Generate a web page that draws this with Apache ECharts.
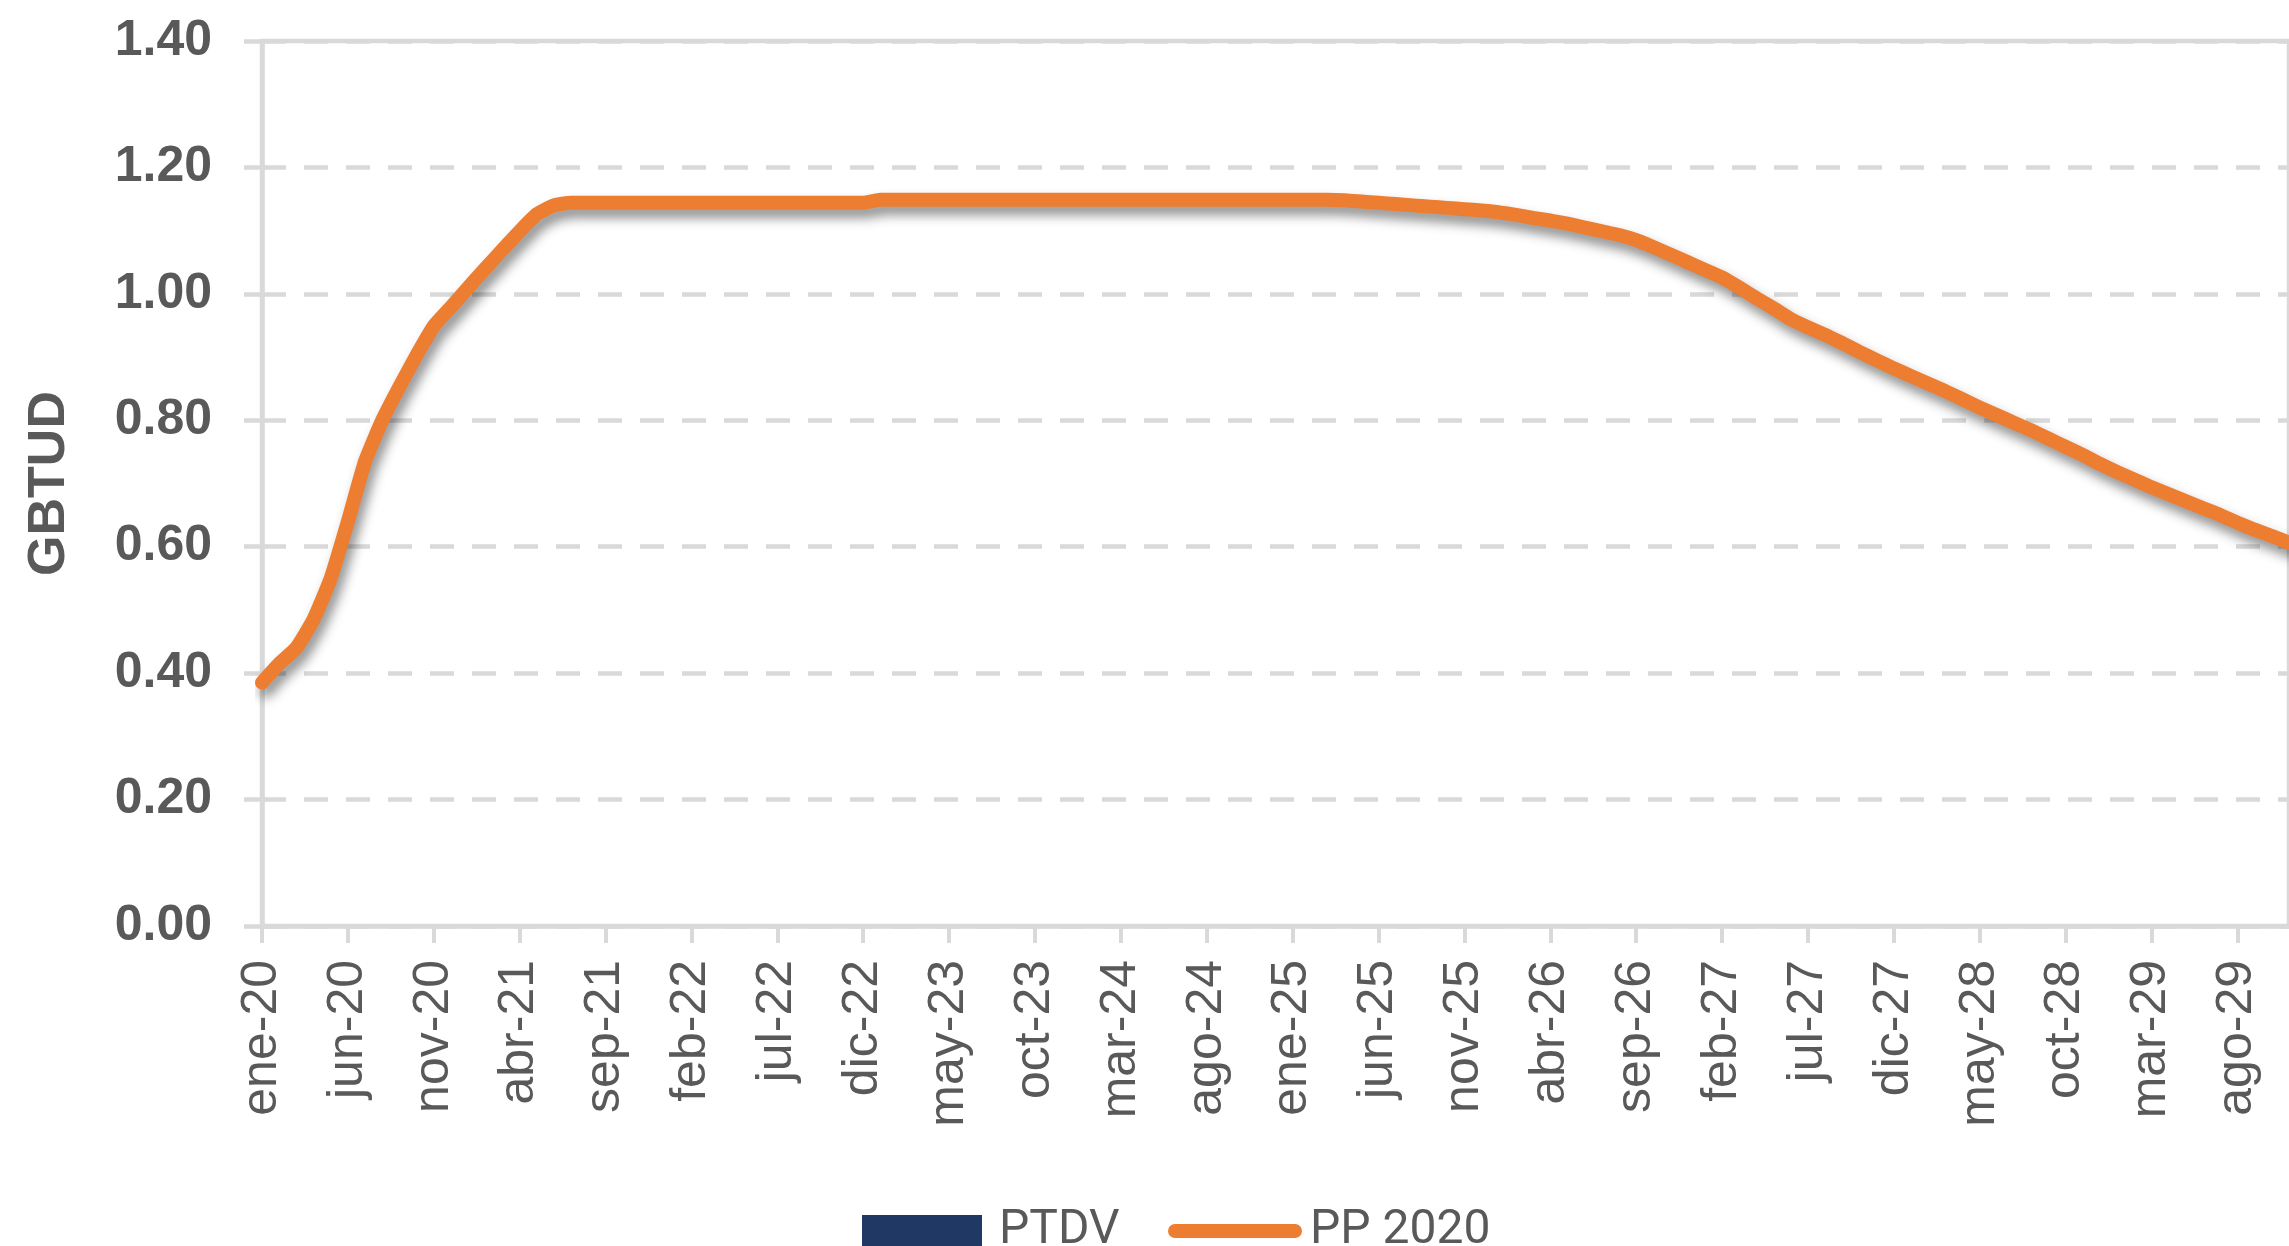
<!DOCTYPE html>
<html>
<head>
<meta charset="utf-8">
<script src="https://cdn.jsdelivr.net/npm/echarts@6/dist/echarts.min.js"></script>
<style>
  html, body { margin: 0; padding: 0; background: #fff; }
  #chart-wrapper { width: 2289px; height: 1246px; }
</style>
</head>
<body>
<div id="chart-wrapper"></div>
<script>
// month labels used on the category axis (ene-20 ... nov-29)
const MONTHS = ["ene", "feb", "mar", "abr", "may", "jun", "jul", "ago", "sep", "oct", "nov", "dic"];
const FIRST_YEAR = 2020;
const N_MONTHS = 119;

// PP 2020 monthly values, GBTUD
const pp2020 = [
  0.385, 0.415, 0.44, 0.485, 0.55, 0.64, 0.735, 0.8, 0.853, 0.903, 0.949, 0.979,
  1.01, 1.04, 1.07, 1.099, 1.126, 1.14, 1.144, 1.144, 1.144, 1.144, 1.144, 1.144,
  1.144, 1.144, 1.144, 1.144, 1.144, 1.144, 1.144, 1.144, 1.144, 1.144, 1.144, 1.144,
  1.149, 1.149, 1.149, 1.149, 1.149, 1.149, 1.149, 1.149, 1.149, 1.149, 1.149, 1.149,
  1.149, 1.149, 1.149, 1.149, 1.149, 1.149, 1.149, 1.149, 1.149, 1.149, 1.149, 1.149,
  1.149, 1.149, 1.149, 1.148, 1.146, 1.144, 1.142, 1.14, 1.138, 1.136, 1.134, 1.132,
  1.129, 1.125, 1.12, 1.116, 1.111, 1.105, 1.099, 1.093, 1.085, 1.074, 1.062, 1.05,
  1.038, 1.026, 1.01, 0.993, 0.977, 0.96, 0.947, 0.935, 0.922, 0.908, 0.895, 0.882,
  0.87, 0.858, 0.846, 0.833, 0.82, 0.808, 0.796, 0.784, 0.771, 0.758, 0.745, 0.731,
  0.718, 0.706, 0.694, 0.683, 0.672, 0.661, 0.65, 0.638, 0.627, 0.617, 0.606,
];

// PTDV has no values in this picture, only its legend entry
const ptdv = [];

const yTicks = [0, 0.2, 0.4, 0.6, 0.8, 1.0, 1.2, 1.4];

const categories = [];
for (let i = 0; i < N_MONTHS; i++) {
  const yy = String((FIRST_YEAR + Math.floor(i / 12)) % 100).padStart(2, "0");
  categories.push(MONTHS[i % 12] + "-" + yy);
}

const GRAY = "#595959";
const GRID_GRAY = "#D9D9D9";

const chartDom = document.getElementById("chart-wrapper");
const chart = echarts.init(chartDom, null, { renderer: "canvas" });

const option = {
  animation: false,
  backgroundColor: "#fff",
  grid: {
    left: 262,
    top: 41,
    bottom: 320,
    right: -5,
    show: true,
    borderColor: GRID_GRAY,
    borderWidth: 4.5,
    backgroundColor: "transparent",
  },
  legend: [
    {
      data: [{ name: "PTDV", icon: "rect" }],
      left: 857,
      top: 1202,
      itemWidth: 120,
      itemHeight: 32,
      textStyle: {
        fontFamily: "Roboto",
        fontSize: 48,
        color: GRAY,
        padding: [0, 0, 0, 12],
      },
    },
    {
      data: [
        {
          name: "PP 2020",
          icon: "path://M7,0 L127,0 A7,7 0 0 1 127,14 L7,14 A7,7 0 0 1 7,0 Z",
        },
      ],
      left: 1163,
      top: 1202,
      itemWidth: 134,
      itemHeight: 32,
      itemStyle: { borderWidth: 0 },
      textStyle: {
        fontFamily: "Roboto",
        fontSize: 48,
        color: GRAY,
        padding: [0, 0, 0, 3],
      },
    },
  ],
  xAxis: {
    type: "category",
    data: categories,
    boundaryGap: false,
    axisLine: { show: true, lineStyle: { color: GRID_GRAY, width: 4.5 } },
    axisTick: {
      show: true,
      interval: 4,
      length: 17,
      lineStyle: { color: GRID_GRAY, width: 4 },
    },
    axisLabel: {
      interval: 4,
      rotate: 90,
      margin: 34,
      fontFamily: "Liberation Sans",
      fontSize: 50,
      color: GRAY,
    },
    splitLine: { show: false },
  },
  yAxis: {
    type: "value",
    min: yTicks[0],
    max: yTicks[yTicks.length - 1],
    interval: 0.2,
    name: "GBTUD",
    nameLocation: "middle",
    nameGap: 186,
    nameTextStyle: {
      fontFamily: "Liberation Sans",
      fontWeight: "bold",
      fontSize: 52,
      color: GRAY,
    },
    axisLine: { show: true, lineStyle: { color: GRID_GRAY, width: 4.5 } },
    axisTick: { show: true, length: 18, lineStyle: { color: GRID_GRAY, width: 4.5 } },
    axisLabel: {
      margin: 50,
      fontFamily: "Liberation Sans",
      fontWeight: "bold",
      fontSize: 50,
      color: GRAY,
      formatter: (v) => v.toFixed(2),
    },
    splitLine: {
      show: true,
      lineStyle: { color: GRID_GRAY, width: 4.5, type: [24, 18] },
    },
  },
  series: [
    {
      name: "PTDV",
      type: "bar",
      data: ptdv,
      itemStyle: { color: "#203864" },
    },
    {
      name: "PP 2020",
      type: "line",
      data: pp2020,
      symbol: "none",
      showSymbol: false,
      smooth: 0.15,
      itemStyle: { color: "#ED7D31" },
      lineStyle: {
        color: "#ED7D31",
        width: 14,
        cap: "round",
        join: "round",
        shadowColor: "rgba(0,0,0,0.45)",
        shadowBlur: 12,
        shadowOffsetX: 4,
        shadowOffsetY: 8,
      },
      z: 3,
    },
  ],
};

chart.setOption(option);
</script>
</body>
</html>
